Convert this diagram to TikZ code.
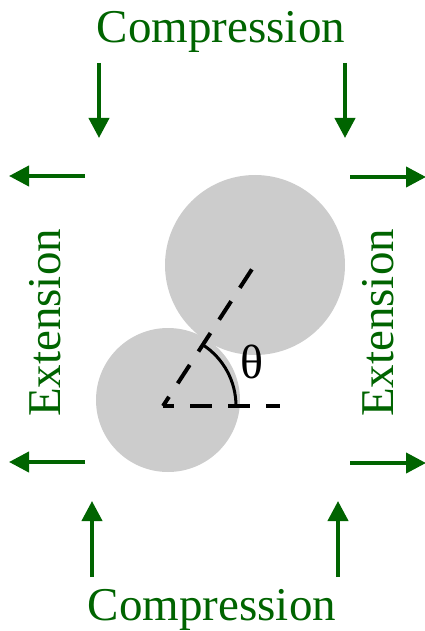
\documentclass[tikz,border=0pt]{standalone}
\usepackage{fontspec}
\setmainfont{Liberation Serif}
\usetikzlibrary{arrows.meta}
\definecolor{dkgreen}{RGB}{0,100,0}
\definecolor{grainfill}{RGB}{204,204,204}

\begin{document}
\begin{tikzpicture}[
  x=1pt, y=-1pt,
  lbl/.style={text=dkgreen, inner sep=0pt, font=\fontsize{47}{47}\selectfont},
  push/.style={draw=dkgreen, line width=4pt, -{Triangle[length=20pt,width=20pt]}},
  grain/.style={fill=grainfill},
  guide/.style={draw=black, line width=4pt, dash pattern=on 22pt off 16pt, dash phase=11pt},
  ang/.style={draw=black, line width=3pt},
]
\useasboundingbox (0,0) rectangle (424,631);

% ---------------- grains ----------------
\fill[grain] (255,265) circle[radius=90pt];
\fill[grain] (168,400) circle[radius=72pt];

% ---------------- contact angle ----------------
\coordinate (O)   at (163,406);
\coordinate (tip) at (256,263);
\coordinate (hz)  at (280,406);
\draw[guide] (O) -- (tip);
\draw[guide] (O) -- (hz);
\draw[ang] ([shift={(57:73pt)}]O) arc[start angle=57, end angle=0, radius=73pt];
\node[inner sep=0pt, font=\fontsize{48}{48}\selectfont] (th) at (252,362) {θ};

% ---------------- labels ----------------
\node[lbl, anchor=base] (cmpTop) at (221,43)  {Compression};
\node[lbl, anchor=base] (cmpBot) at (212,620) {Compression};
\node[lbl, rotate=90]   (extL)   at (45,323)  {Extension};
\node[lbl, rotate=90]   (extR)   at (378,323) {Extension};

% ---------------- loading arrows ----------------
\coordinate (a1) at (99,63);   \coordinate (b1) at (99,138);
\coordinate (a2) at (345,63);  \coordinate (b2) at (345,138);
\coordinate (a3) at (92,577);  \coordinate (b3) at (92,501);
\coordinate (a4) at (338,577); \coordinate (b4) at (338,501);
\coordinate (a5) at (85,176);  \coordinate (b5) at (9,176);
\coordinate (a6) at (85,462);  \coordinate (b6) at (9,462);
\coordinate (a7) at (350,177); \coordinate (b7) at (426,177);
\coordinate (a8) at (350,463); \coordinate (b8) at (426,463);
\foreach \i in {1,...,8}
  \draw[push] (a\i) -- (b\i);

\end{tikzpicture}
\end{document}
